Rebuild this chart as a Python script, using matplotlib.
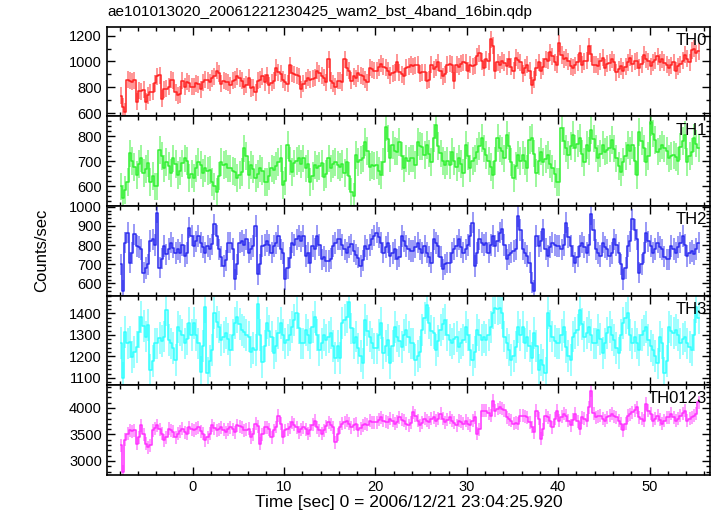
import numpy as np
import matplotlib
matplotlib.use('Agg')
import matplotlib.pyplot as plt
from matplotlib.ticker import MultipleLocator

plt.rcParams['font.family'] = ['Liberation Sans', 'DejaVu Sans']

# light curves, 0.25 s bins starting at t = -8 s (counts/sec)
t_start = -8.0
bin_size = 0.25

th0 = [735, 650, 610, 860, 850, 845, 855, 690, 775, 770, 780, 690, 740, 760, 765, 830,
       885, 895, 710, 785, 790, 805, 860, 855, 760, 740, 745, 850, 805, 845, 830, 805,
       805, 830, 825, 785, 840, 860, 855, 840, 870, 885, 930, 910, 828, 850, 845, 840,
       817, 850, 860, 885, 870, 850, 806, 820, 873, 795, 800, 760, 850, 860, 885, 840,
       895, 817, 835, 850, 950, 918, 905, 860, 840, 828, 970, 907, 900, 895, 885, 784,
       828, 850, 873, 860, 865, 873, 930, 907, 890, 873, 840, 1018, 850, 830, 806, 850,
       850, 840, 1018, 950, 930, 850, 885, 870, 907, 895, 885, 860, 840, 950, 940, 930,
       930, 955, 983, 960, 950, 930, 895, 910, 918, 995, 918, 900, 885, 950, 960, 973,
       962, 970, 973, 907, 915, 918, 850, 860, 973, 940, 955, 995, 930, 885, 900, 973,
       983, 975, 850, 973, 960, 983, 995, 990, 930, 973, 962, 970, 1040, 1062, 1000, 950,
       1018, 1000, 1173, 1120, 930, 995, 973, 1006, 990, 962, 1018, 960, 930, 1029, 1010, 995,
       907, 950, 973, 930, 817, 860, 950, 995, 930, 960, 1018, 1006, 1073, 1040, 995, 973,
       1140, 1050, 1018, 1029, 1000, 962, 950, 970, 995, 1062, 973, 1000, 1006, 1118, 1060, 973,
       973, 962, 1000, 1029, 950, 983, 990, 1018, 995, 918, 940, 962, 930, 960, 995, 1029,
       983, 1000, 1006, 950, 980, 1051, 1018, 1000, 962, 995, 1010, 1040, 995, 1018, 990, 973,
       950, 970, 995, 930, 962, 980, 1006, 1051, 1020, 995, 1085, 1100, 1062, 1080]

th1 = [600, 552, 585, 618, 731, 700, 678, 645, 690, 711, 652, 670, 691, 618, 640, 600,
       600, 744, 720, 671, 698, 680, 652, 711, 690, 645, 660, 691, 711, 700, 632, 650,
       632, 671, 698, 685, 652, 671, 660, 665, 618, 600, 579, 640, 698, 685, 690, 671,
       671, 660, 658, 632, 645, 658, 751, 720, 645, 685, 670, 632, 650, 671, 660, 618,
       618, 640, 671, 665, 680, 698, 711, 605, 620, 764, 700, 658, 691, 700, 711, 690,
       711, 671, 690, 618, 640, 685, 671, 680, 691, 638, 650, 711, 671, 690, 698, 685,
       678, 690, 652, 698, 640, 579, 560, 724, 698, 705, 711, 777, 740, 678, 685, 680,
       685, 660, 645, 698, 837, 790, 711, 764, 740, 738, 777, 720, 671, 711, 700, 711,
       711, 685, 777, 760, 758, 724, 764, 730, 698, 791, 844, 760, 731, 700, 685, 700,
       685, 738, 700, 678, 711, 690, 652, 764, 720, 671, 700, 711, 738, 760, 791, 750,
       724, 700, 678, 645, 700, 791, 751, 740, 711, 804, 760, 698, 632, 680, 724, 700,
       724, 700, 671, 784, 791, 730, 652, 700, 738, 698, 710, 724, 690, 671, 650, 618,
       618, 830, 780, 751, 724, 760, 804, 751, 770, 791, 730, 698, 764, 740, 824, 790,
       751, 711, 730, 764, 738, 745, 751, 784, 750, 711, 680, 658, 698, 720, 764, 740,
       764, 700, 645, 817, 780, 751, 698, 720, 857, 810, 784, 738, 750, 764, 751, 740,
       711, 720, 724, 718, 700, 758, 780, 804, 698, 720, 738, 791, 770, 751]

th2 = [700, 561, 813, 865, 709, 760, 856, 795, 790, 778, 657, 680, 700, 822, 830, 800,
       969, 683, 730, 795, 752, 780, 813, 787, 760, 778, 761, 800, 743, 760, 891, 850,
       795, 820, 847, 813, 790, 761, 795, 780, 804, 908, 850, 778, 740, 691, 720, 813,
       813, 780, 622, 700, 813, 822, 800, 830, 761, 780, 795, 900, 648, 700, 795, 800,
       822, 800, 761, 795, 810, 847, 778, 760, 622, 680, 735, 813, 800, 830, 847, 820,
       847, 743, 760, 709, 795, 780, 847, 800, 726, 740, 717, 717, 730, 795, 810, 830,
       830, 800, 778, 761, 790, 804, 769, 750, 735, 691, 720, 795, 778, 800, 830, 850,
       865, 840, 813, 761, 790, 813, 743, 760, 778, 726, 740, 847, 820, 795, 780, 769,
       769, 790, 813, 778, 760, 795, 761, 740, 709, 830, 810, 795, 740, 674, 700, 709,
       709, 761, 780, 795, 830, 790, 761, 778, 800, 847, 917, 691, 760, 830, 813, 800,
       813, 761, 800, 847, 795, 820, 865, 882, 800, 726, 750, 761, 770, 778, 951, 880,
       778, 760, 743, 709, 604, 560, 847, 795, 820, 882, 780, 743, 790, 813, 800, 795,
       795, 778, 800, 917, 840, 795, 743, 709, 740, 795, 813, 790, 761, 800, 960, 880,
       778, 760, 743, 813, 790, 778, 743, 760, 830, 800, 761, 700, 622, 680, 795, 820,
       934, 880, 830, 657, 700, 761, 865, 820, 795, 761, 780, 813, 790, 778, 740, 726,
       726, 795, 780, 761, 790, 813, 847, 800, 743, 760, 769, 752, 780, 813]

th3 = [1264, 1100, 1315, 1260, 1268, 1198, 1220, 1245, 1315, 1385, 1340, 1292, 1346, 1136, 1180, 1260,
       1260, 1284, 1270, 1292, 1416, 1276, 1260, 1240, 1183, 1338, 1320, 1299, 1260, 1280, 1354, 1300,
       1354, 1300, 1260, 1129, 1250, 1431, 1121, 1180, 1230, 1400, 1360, 1338, 1276, 1290, 1307, 1280,
       1230, 1300, 1354, 1385, 1350, 1323, 1315, 1300, 1292, 1222, 1240, 1230, 1446, 1300, 1175, 1250,
       1354, 1320, 1292, 1214, 1250, 1307, 1354, 1300, 1260, 1276, 1300, 1338, 1370, 1400, 1330, 1260,
       1260, 1323, 1300, 1260, 1338, 1385, 1300, 1230, 1260, 1299, 1276, 1290, 1307, 1250, 1191, 1250,
       1191, 1354, 1370, 1385, 1454, 1330, 1260, 1292, 1237, 1200, 1167, 1369, 1320, 1292, 1260, 1237,
       1237, 1300, 1354, 1214, 1250, 1276, 1167, 1250, 1338, 1292, 1270, 1245, 1300, 1323, 1290, 1260,
       1260, 1183, 1200, 1222, 1323, 1380, 1439, 1354, 1320, 1307, 1230, 1270, 1323, 1350, 1369, 1300,
       1276, 1260, 1280, 1292, 1245, 1260, 1276, 1338, 1300, 1230, 1183, 1220, 1323, 1300, 1276, 1290,
       1276, 1300, 1338, 1400, 1423, 1420, 1423, 1400, 1292, 1260, 1230, 1183, 1200, 1245, 1338, 1300,
       1338, 1260, 1292, 1250, 1191, 1307, 1250, 1136, 1183, 1160, 1121, 1400, 1340, 1292, 1270, 1260,
       1260, 1300, 1338, 1245, 1200, 1183, 1292, 1310, 1323, 1416, 1350, 1292, 1310, 1338, 1300, 1260,
       1260, 1323, 1280, 1214, 1260, 1307, 1338, 1300, 1276, 1240, 1214, 1300, 1354, 1380, 1400, 1300,
       1260, 1292, 1260, 1230, 1299, 1320, 1338, 1276, 1250, 1230, 1200, 1167, 1292, 1260, 1121, 1180,
       1338, 1320, 1307, 1323, 1300, 1260, 1280, 1292, 1260, 1245, 1230, 1300, 1431, 1380]

th0123 = [3294, 2794, 3400, 3512, 3575, 3560, 3575, 3325, 3450, 3669, 3500, 3325, 3262, 3300, 3575, 3620,
          3669, 3600, 3512, 3387, 3450, 3606, 3575, 3550, 3450, 3512, 3560, 3606, 3540, 3512, 3637, 3600,
          3575, 3610, 3637, 3560, 3512, 3387, 3450, 3512, 3669, 3620, 3575, 3600, 3637, 3590, 3544, 3600,
          3637, 3600, 3544, 3669, 3650, 3637, 3575, 3590, 3606, 3450, 3500, 3700, 3650, 3325, 3500, 3637,
          3637, 3600, 3450, 3575, 3640, 3856, 3700, 3450, 3575, 3600, 3637, 3731, 3680, 3637, 3544, 3600,
          3637, 3600, 3512, 3575, 3680, 3762, 3637, 3580, 3512, 3575, 3650, 3731, 3680, 3637, 3356, 3500,
          3637, 3700, 3731, 3762, 3700, 3637, 3680, 3700, 3575, 3620, 3669, 3700, 3680, 3762, 3730, 3731,
          3731, 3780, 3825, 3762, 3740, 3731, 3794, 3760, 3700, 3740, 3825, 3780, 3762, 3700, 3669, 3720,
          3919, 3850, 3762, 3669, 3720, 3794, 3760, 3731, 3800, 3825, 3762, 3800, 3887, 3800, 3731, 3780,
          3825, 3762, 3720, 3669, 3762, 3740, 3700, 3762, 3700, 3669, 3760, 3825, 3512, 3600, 3950, 3950,
          3950, 3900, 3856, 4137, 3950, 3980, 4012, 3981, 3960, 3825, 3790, 3762, 3700, 3720, 3700, 3856,
          3856, 3840, 3825, 3731, 3640, 3544, 3950, 3800, 3419, 3600, 3856, 3825, 3760, 3637, 3800, 3950,
          3762, 3830, 3887, 3856, 3760, 3669, 3780, 3887, 3750, 3606, 3825, 3800, 3762, 4012, 4325, 3900,
          3825, 3840, 3856, 3800, 3762, 3825, 3850, 3887, 3840, 3825, 3762, 3700, 3575, 3700, 3856, 3880,
          3919, 3960, 4012, 3825, 3800, 3762, 4075, 3950, 3887, 3762, 3800, 3856, 3780, 3700, 3760, 3825,
          3825, 3887, 3820, 3762, 3800, 3856, 3900, 3950, 3762, 3800, 3825, 3850, 3887, 4106]

names = ['TH0', 'TH1', 'TH2', 'TH3', 'TH0123']
series = [th0, th1, th2, th3, th0123]
errors = [66, 55, 56, 74, 122]
colors = ['#ff2020', '#30f030', '#2a2aee', '#30ffff', '#ff30ff']
ylims = [(575, 1268), (522, 878), (537, 1004), (1066, 1483), (2740, 4430)]
major = [200, 100, 100, 100, 500]
minor = [100, 20, 20, 20, 100]

fig, axes = plt.subplots(5, 1, sharex=True, figsize=(7.17, 5.16), dpi=100)
fig.subplots_adjust(left=0.149, right=0.990, top=0.948, bottom=0.080, hspace=0)

for i, ax in enumerate(axes):
    y = np.array(series[i])
    t = t_start + bin_size * (np.arange(len(y)) + 0.5)
    # light vertical error bars plus a solid stepped line through the bins
    ax.errorbar(t, y, yerr=errors[i], fmt='none', ecolor=colors[i],
                elinewidth=1.1, alpha=0.6, capsize=0)
    ax.step(t, y, where='mid', color=colors[i], lw=1.1)
    ax.set_ylim(ylims[i])
    ax.set_xlim(-9.4, 56.6)
    ax.yaxis.set_major_locator(MultipleLocator(major[i]))
    ax.yaxis.set_minor_locator(MultipleLocator(minor[i]))
    ax.xaxis.set_major_locator(MultipleLocator(10))
    ax.xaxis.set_minor_locator(MultipleLocator(2))
    ax.tick_params(which='both', direction='in', top=True, right=True,
                   labelsize=10.5, width=1.0)
    ax.tick_params(which='major', length=6)
    ax.tick_params(which='minor', length=3)
    for s in ax.spines.values():
        s.set_linewidth(1.2)
    ax.text(0.995, 0.93, names[i], transform=ax.transAxes, ha='right', va='top',
            fontsize=12)

axes[-1].set_xlabel('Time [sec] 0 = 2006/12/21 23:04:25.920', fontsize=12.5, labelpad=1)
fig.text(0.058, 0.515, 'Counts/sec', rotation=90, ha='center', va='center', fontsize=12)
fig.text(107 / 717, 1 - 12 / 516, 'ae101013020_20061221230425_wam2_bst_4band_16bin.qdp',
         ha='left', va='center', fontsize=11)

fig.savefig('out.png', dpi=100)
